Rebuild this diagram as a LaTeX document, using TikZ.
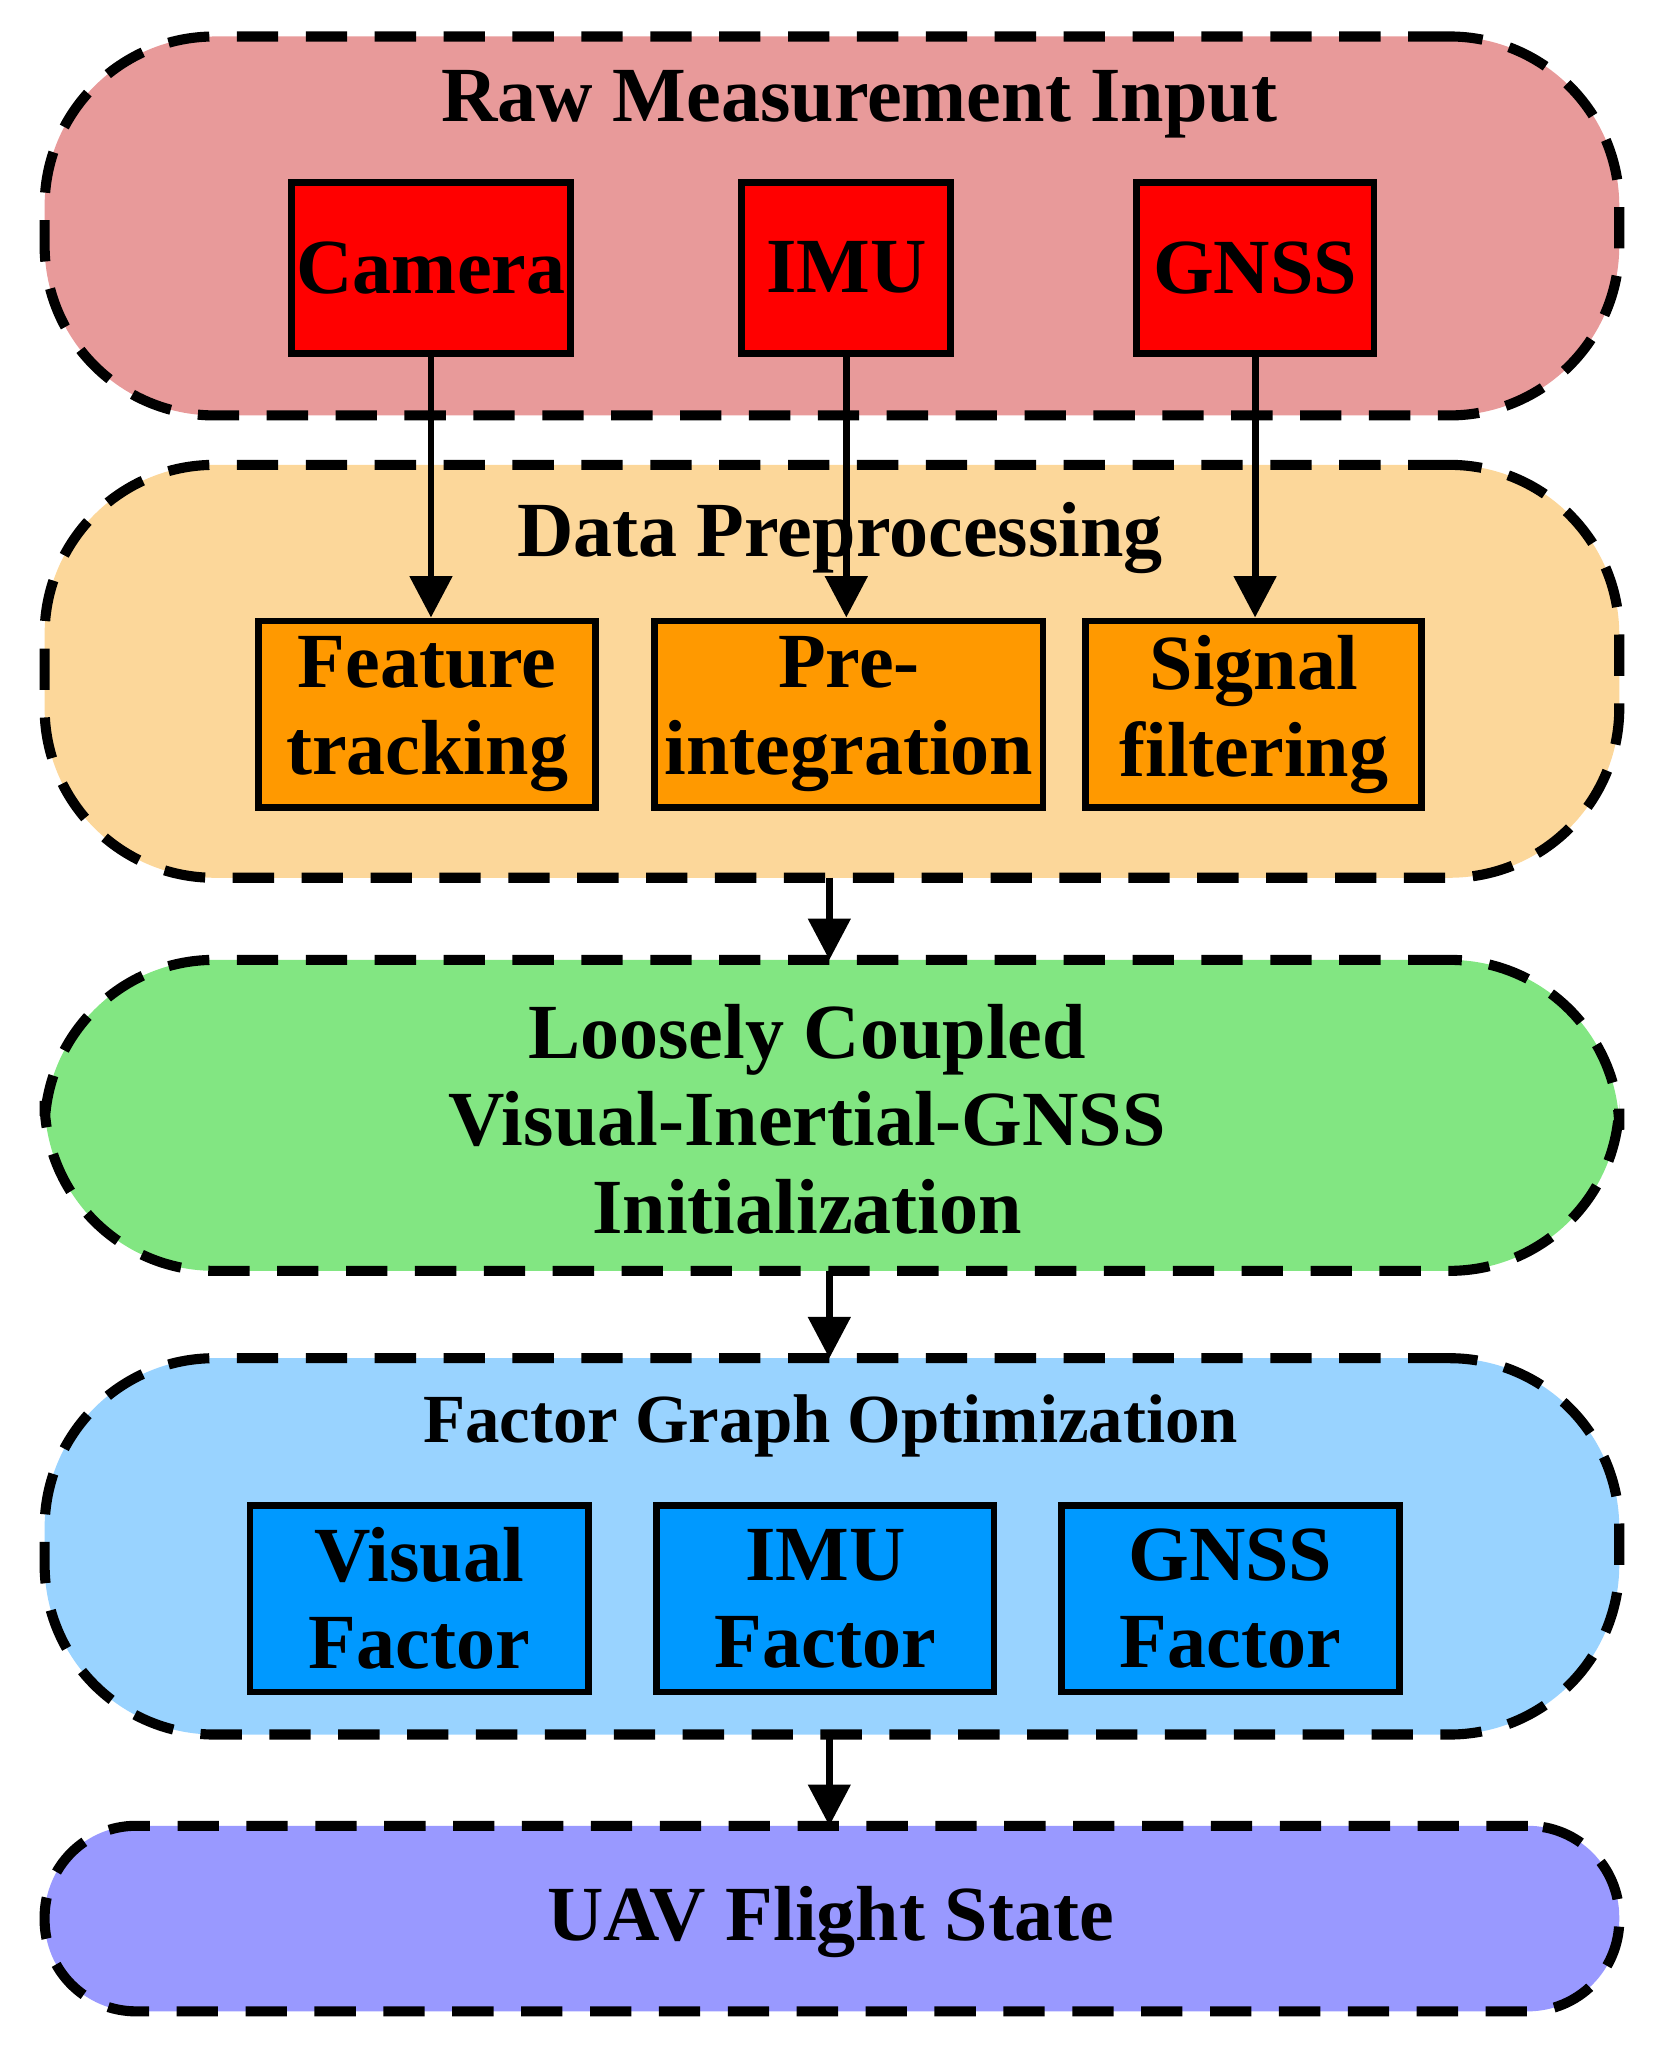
\documentclass[tikz,border=0pt]{standalone}
\usepackage{fontspec}
\setmainfont{Liberation Serif}
\usetikzlibrary{positioning, arrows.meta}
\definecolor{rawbg}{HTML}{E89A9A}
\definecolor{prebg}{HTML}{FCD79A}
\definecolor{inibg}{HTML}{82E682}
\definecolor{fgobg}{HTML}{99D3FF}
\definecolor{uavbg}{HTML}{9999FF}
\definecolor{senbox}{HTML}{FF0000}
\definecolor{prebox}{HTML}{FF9900}
\definecolor{facbox}{HTML}{0099FF}
\tikzstyle{stage}=[draw,line width=2.2pt,dash pattern=on 9pt off 6pt,rounded corners=1.3cm,minimum width=12.05cm,inner sep=0pt]
\tikzstyle{blk}=[draw,line width=1.5pt,inner sep=0pt,align=center,font=\fontsize{17}{19}\selectfont\bfseries]
\tikzstyle{ttl}=[font=\fontsize{17}{19}\selectfont\bfseries,align=center]
\tikzstyle{flow}=[-{Triangle[length=9pt,width=9pt]},line width=1.5pt]

\begin{document}
\begin{tikzpicture}[x=0.01cm,y=-0.01cm]
\useasboundingbox (0,0) rectangle (1270,1575);
% containers
\node[stage,fill=rawbg,minimum height=2.9cm] (raw) at (637,173) {};
\node[stage,fill=prebg,minimum height=3.16cm] (pre) at (637,514) {};
\node[stage,fill=inibg,minimum height=2.38cm] (ini) at (637,854) {};
\node[stage,fill=fgobg,minimum height=2.88cm] (fgo) at (637,1184) {};
\node[stage,fill=uavbg,minimum height=1.42cm,rounded corners=0.7cm] (uav) at (637,1469) {};
% titles
\node[ttl] at (658,80) {Raw Measurement Input};
\node[ttl] at (643,412) {Data Preprocessing};
\node[ttl] at (618,857) {Loosely Coupled\\Visual-Inertial-GNSS\\Initialization};
\node[ttl,font=\fontsize{15}{18}\selectfont\bfseries] at (636,1092) {Factor Graph Optimization};
\node[ttl] at (636,1472) {UAV Flight State};
% sensors
\node[blk,fill=senbox,minimum width=2.13cm,minimum height=1.31cm] (cam) at (330,205) {Camera};
\node[blk,fill=senbox,minimum width=1.6cm,minimum height=1.31cm] (imu) at (648,205) {IMU};
\node[blk,fill=senbox,minimum width=1.82cm,minimum height=1.31cm] (gnss) at (961,205) {GNSS};
% preprocessing
\node[blk,fill=prebox,minimum width=2.58cm,minimum height=1.43cm] (feat) at (327,547) {Feature\\tracking};
\node[blk,fill=prebox,minimum width=2.97cm,minimum height=1.43cm] (preint) at (650,547) {Pre-\\integration};
\node[blk,fill=prebox,minimum width=2.57cm,minimum height=1.43cm] (filt) at (960,547) {Signal\\filtering};
% factors
\node[blk,fill=facbox,minimum width=2.59cm,minimum height=1.43cm] (visf) at (321,1224) {Visual\\Factor};
\node[blk,fill=facbox,minimum width=2.58cm,minimum height=1.43cm] (imuf) at (632,1224) {IMU\\Factor};
\node[blk,fill=facbox,minimum width=2.59cm,minimum height=1.43cm] (gnssf) at (942,1224) {GNSS\\Factor};
% arrows
\draw[flow] (cam.south) -- (cam.south |- feat.north);
\draw[flow] (imu.south) -- (imu.south |- preint.north);
\draw[flow] (gnss.south) -- (gnss.south |- filt.north);
\draw[flow] (635,672) -- (635,735);
\draw[flow] (635,973) -- (635,1040);
\draw[flow] (635,1328) -- (635,1398);
\end{tikzpicture}
\end{document}
